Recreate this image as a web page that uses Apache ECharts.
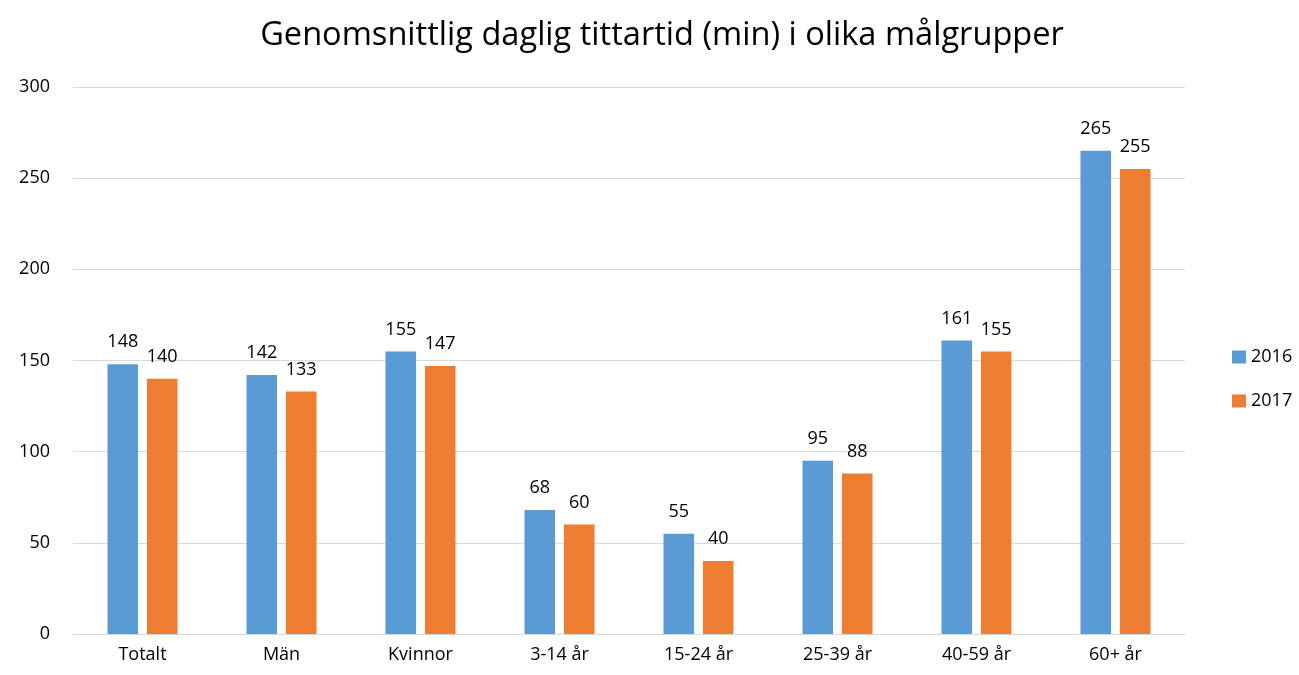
<!DOCTYPE html>
<html>
<head>
<meta charset="utf-8">
<script src="https://cdn.jsdelivr.net/npm/echarts@6/dist/echarts.min.js"></script>
<style>
  html, body { margin: 0; padding: 0; background: #fff; }
  #chart { width: 1299px; height: 675px; }
</style>
</head>
<body>
<div id="chart"></div>
<script>
// data
var categories = ['Totalt', 'Män', 'Kvinnor', '3-14 år', '15-24 år', '25-39 år', '40-59 år', '60+ år'];
var values2016 = [148, 142, 155, 68, 55, 95, 161, 265];
var values2017 = [140, 133, 147, 60, 40, 88, 155, 255];
var seriesNames = ['2016', '2017'];

var myChart = echarts.init(document.getElementById('chart'));
var font = 'Open Sans, Noto Sans, sans-serif';
var labelStyle = { show: true, position: 'top', color: '#000', fontSize: 18, fontFamily: font, distance: 13 };

var option = {
    backgroundColor: '#fff',
    title: {
        text: 'Genomsnittlig daglig tittartid (min) i olika målgrupper',
        left: 657,
        textAlign: 'center',
        top: 14,
        textStyle: { fontSize: 32.6, fontWeight: 'normal', color: '#000', fontFamily: font }
    },
    legend: {
        orient: 'vertical',
        left: 1227,
        top: 343,
        itemWidth: 14,
        itemHeight: 13,
        itemGap: 26,
        icon: 'rect',
        textStyle: { fontSize: 18, color: '#000', fontFamily: font },
        data: seriesNames
    },
    grid: { left: 73, right: 114, top: 87, bottom: 41, containLabel: false },
    xAxis: {
        type: 'category',
        data: categories,
        axisLine: { lineStyle: { color: '#D9D9D9' } },
        axisTick: { show: false },
        axisLabel: { color: '#000', fontSize: 18, fontFamily: font, margin: 12 }
    },
    yAxis: {
        type: 'value',
        min: 0,
        max: 300,
        interval: 50,
        axisLine: { show: false },
        axisTick: { show: false },
        splitLine: { lineStyle: { color: '#D9D9D9' } },
        axisLabel: { color: '#000', fontSize: 18, fontFamily: font, margin: 23 }
    },
    series: [
        {
            name: seriesNames[0],
            type: 'bar',
            data: values2016,
            barWidth: '22%',
            barGap: '29%',
            itemStyle: { color: '#5B9BD5' },
            label: labelStyle
        },
        {
            name: seriesNames[1],
            type: 'bar',
            data: values2017,
            barWidth: '22%',
            itemStyle: { color: '#ED7D31' },
            label: labelStyle
        }
    ]
};
myChart.setOption(option);
</script>
</body>
</html>
